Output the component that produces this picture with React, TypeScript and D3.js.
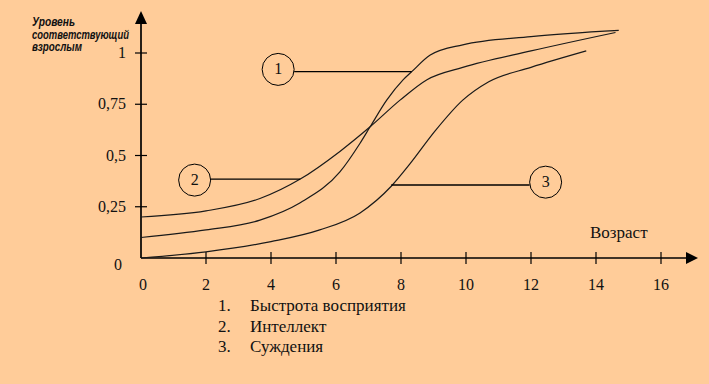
import React from "react";
import * as d3 from "d3";

const xTicks = [0, 2, 4, 6, 8, 10, 12, 14, 16];
const yTicks = [0.25, 0.5, 0.75, 1];
const yTickLabels = ["0,25", "0,5", "0,75", "1"];

const ages1 = [0, 2, 3.66, 4.9, 6.12, 6.74, 7.05, 7.56, 8.07, 8.33, 8.9, 9.9, 12, 14.7];
const vals1 = [0.1, 0.137, 0.185, 0.27, 0.42, 0.56, 0.64, 0.77, 0.87, 0.909, 0.99, 1.04, 1.08, 1.11];

const ages2 = [0, 2, 3.66, 4.9, 6.12, 7.05, 7.97, 8.8, 9.9, 12, 14.6];
const vals2 = [0.2, 0.23, 0.29, 0.385, 0.52, 0.64, 0.77, 0.87, 0.93, 1.01, 1.1];

const ages3 = [0, 2, 4, 5.5, 6.74, 7.7, 8.28, 9.05, 9.9, 10.7, 12, 13.7];
const vals3 = [0, 0.03, 0.08, 0.137, 0.22, 0.35, 0.46, 0.62, 0.77, 0.86, 0.93, 1.01];

const markerNums = ["1", "2", "3"];
const markerCircleAge = [4.22, 1.65, 12.45];
const markerCircleVal = [0.92, 0.38, 0.37];
const markerEndAge = [8.33, 4.9, 7.7];
const markerEndVal = [0.909, 0.385, 0.356];

const legendItems = ["Быстрота восприятия", "Интеллект", "Суждения"];
const yTitle = ["Уровень", "соответствующий", "взрослым"];
const yTitleWidths = [43, 97, 50];
const xTitle = "Возраст";

export default function App() {
  const x = d3.scaleLinear().domain([0, 16]).range([141, 661]);
  const y = d3.scaleLinear().domain([0, 1]).range([258, 53]);
  const line = d3
    .line<[number, number]>()
    .x((d) => x(d[0]))
    .y((d) => y(d[1]))
    .curve(d3.curveMonotoneX);
  const series = [
    ages1.map((a, i) => [a, vals1[i]] as [number, number]),
    ages2.map((a, i) => [a, vals2[i]] as [number, number]),
    ages3.map((a, i) => [a, vals3[i]] as [number, number]),
  ];
  const serifStyle = { fontFamily: '"Liberation Serif", "DejaVu Serif", serif' };
  const sansStyle = { fontFamily: '"Liberation Sans", Arial, sans-serif' };
  const x0 = x(0);
  const y0 = y(0);
  const r = 16;
  return (
    <svg
      width={709}
      height={384}
      style={{ position: "absolute", left: 0, top: 0, display: "block" }}
    >
      <rect x={0} y={0} width={709} height={384} fill="#FFCC99" />
      {yTitle.map((t, i) => (
        <text
          key={t}
          x={32}
          y={26 + i * 12.7}
          style={sansStyle}
          fontSize={12}
          fontWeight="bold"
          fontStyle="italic"
          fill="#111"
          textLength={yTitleWidths[i]}
          lengthAdjust="spacingAndGlyphs"
        >
          {t}
        </text>
      ))}
      <line x1={x0} y1={y0} x2={x0} y2={20} stroke="#000" strokeWidth={1.7} />
      <line x1={x0} y1={y0} x2={690} y2={y0} stroke="#000" strokeWidth={1.7} />
      <path d={`M${x0},11 L${x0 - 6},24 L${x0 + 6},24 Z`} fill="#000" />
      <path d={`M698,${y0} L686,${y0 - 6} L686,${y0 + 6} Z`} fill="#000" />
      {yTicks.map((t, i) => (
        <g key={t}>
          <line x1={x0 - 6} x2={x0 + 6} y1={y(t)} y2={y(t)} stroke="#000" strokeWidth={1.2} />
          <text x={126} y={y(t) + 5} textAnchor="end" style={serifStyle} fontSize={16} fill="#111">
            {yTickLabels[i]}
          </text>
        </g>
      ))}
      <text x={122} y={270} textAnchor="end" style={serifStyle} fontSize={16} fill="#111">
        0
      </text>
      {xTicks.map((t) => (
        <g key={t}>
          {t > 0 && (
            <line x1={x(t)} x2={x(t)} y1={y0 - 6} y2={y0 + 6} stroke="#000" strokeWidth={1.2} />
          )}
          <text
            x={x(t) + (t === 0 ? 2 : 0)}
            y={290}
            textAnchor="middle"
            style={serifStyle}
            fontSize={16}
            fill="#111"
          >
            {t}
          </text>
        </g>
      ))}
      <text x={590} y={238} style={serifStyle} fontSize={17} fill="#111">
        {xTitle}
      </text>
      {series.map((s, i) => (
        <path key={i} d={line(s) || ""} fill="none" stroke="#1a1a1a" strokeWidth={1.2} />
      ))}
      {markerNums.map((m, i) => {
        const cx = x(markerCircleAge[i]);
        const cy = y(markerCircleVal[i]);
        const ex = x(markerEndAge[i]);
        const ey = y(markerEndVal[i]);
        const sx = ex > cx ? cx + r : cx - r;
        return (
          <g key={m}>
            <line x1={sx} y1={ey} x2={ex} y2={ey} stroke="#000" strokeWidth={1.3} />
            <circle cx={cx} cy={cy} r={r} fill="none" stroke="#000" strokeWidth={1} />
            <text x={cx} y={cy + 5} textAnchor="middle" style={serifStyle} fontSize={16} fill="#111">
              {m}
            </text>
          </g>
        );
      })}
      {legendItems.map((t, i) => (
        <g key={t}>
          <text x={218} y={311 + i * 20.5} style={serifStyle} fontSize={17} fill="#111">
            {`${i + 1}.`}
          </text>
          <text x={250} y={311 + i * 20.5} style={serifStyle} fontSize={17} fill="#111">
            {t}
          </text>
        </g>
      ))}
    </svg>
  );
}
